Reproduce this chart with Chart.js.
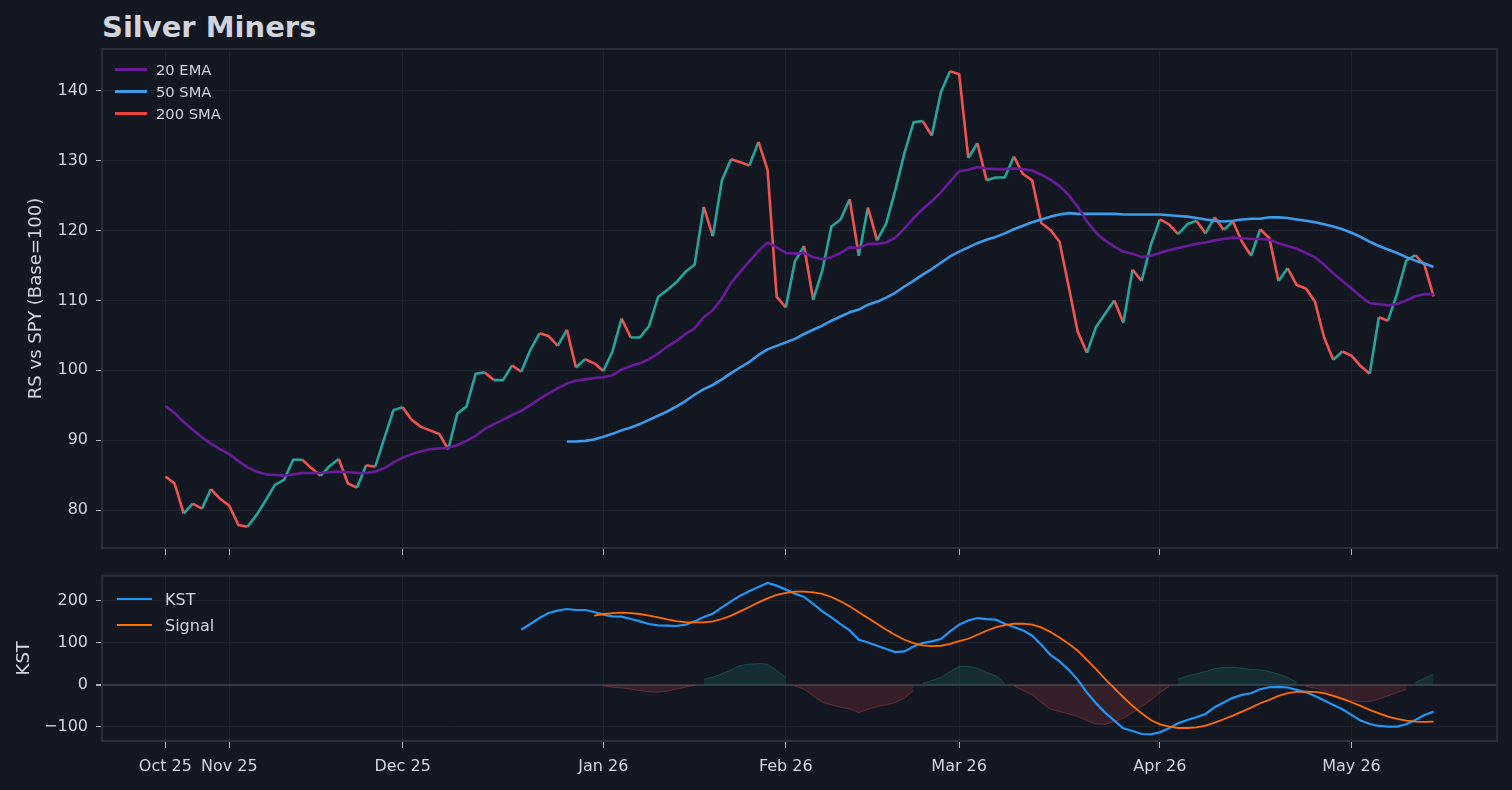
<!doctype html>
<html lang="en">
<head>
  <meta charset="utf-8">
  <title>Silver Miners</title>
  <style>
    body { margin: 0; background: #131722; width: 1512px; height: 790px; overflow: hidden; position: relative;
           font-family: 'DejaVu Sans', sans-serif; color: #d1d4dc; }
    #title { position: absolute; left: 102px; top: 13px; font-size: 29px; font-weight: bold; line-height: 29px; }
    canvas { position: absolute; left: 0; }
    #top { top: 0; }
    #bottom { top: 558px; }
    .legend { position: absolute; }
    .legend div { display: flex; align-items: center; white-space: nowrap; }
    .legend .sw { display: inline-block; }
    #legTop { left: 115px; top: 58px; font-size: 14.7px; }
    #legTop div { height: 22px; }
    #legTop .sw { width: 32px; height: 3px; margin-right: 9px; }
    #legBot { left: 117px; top: 586px; font-size: 16px; }
    #legBot div { height: 26px; }
    #legBot .sw { width: 35px; height: 2.5px; margin-right: 13px; }
  </style>
</head>

<body>
  <div id="title">Silver Miners</div>
  <canvas id="top" width="1512" height="567"></canvas>
  <canvas id="bottom" width="1512" height="232"></canvas>
  <div class="legend" id="legTop">
    <div><span class="sw" style="background:#6a1b9a"></span>20 EMA</div>
    <div><span class="sw" style="background:#3d9be9"></span>50 SMA</div>
    <div><span class="sw" style="background:#e8453c"></span>200 SMA</div>
  </div>
  <div class="legend" id="legBot">
    <div><span class="sw" style="background:#2196f3"></span>KST</div>
    <div><span class="sw" style="background:#ff6d00"></span>Signal</div>
  </div>

  <script src="https://cdn.jsdelivr.net/npm/chart.js@4.4.1/dist/chart.umd.min.js"></script>
  <script>
  // x axis is the trading-day index, month labels sit on the first session of each month
  const tickIdx = [0, 7, 26, 48, 68, 87, 109, 130];
  const tickLabels = ['Oct 25', 'Nov 25', 'Dec 25', 'Jan 26', 'Feb 26', 'Mar 26', 'Apr 26', 'May 26'];

  // relative strength vs SPY, one value per session
  const rs = [
    84.8, 83.8, 79.5, 80.9, 80.2, 83.0, 81.6, 80.6, 77.85, 77.6,
    79.3, 81.4, 83.6, 84.3, 87.2, 87.2, 86.0, 84.9, 86.3, 87.3,
    83.8, 83.2, 86.4, 86.2, 90.3, 94.3, 94.7, 92.9, 91.9, 91.4,
    90.9, 88.7, 93.8, 94.8, 99.5, 99.7, 98.6, 98.6, 100.7, 99.8,
    102.9, 105.3, 104.9, 103.5, 105.8, 100.4, 101.6, 101.0, 99.9, 102.7,
    107.4, 104.7, 104.7, 106.3, 110.5, 111.5, 112.6, 114.1, 115.1, 123.4,
    119.2, 127.2, 130.2, 129.8, 129.3, 132.7, 128.7, 110.5, 109.0, 115.6,
    117.8, 110.1, 114.3, 120.6, 121.6, 124.5, 116.4, 123.3, 118.6, 121.0,
    125.8, 131.1, 135.5, 135.7, 133.6, 139.8, 142.8, 142.4, 130.4, 132.5,
    127.2, 127.6, 127.6, 130.6, 128.1, 127.2, 121.1, 120.1, 118.4, 112.0,
    105.5, 102.5, 106.2, 108.1, 110.0, 106.8, 114.4, 112.8, 117.9, 121.6,
    120.9, 119.5, 120.9, 121.4, 119.6, 121.9, 120.1, 121.3, 118.4, 116.4,
    120.2, 118.9, 112.8, 114.6, 112.2, 111.7, 109.8, 104.7, 101.5, 102.7,
    102.1, 100.6, 99.5, 107.6, 107.1, 111.0, 115.7, 116.5, 115.1, 110.6
  ];

  const ema20 = [
    94.9, 93.9, 92.6, 91.5, 90.4, 89.5, 88.7, 88.0, 87.0, 86.1,
    85.5, 85.1, 85.0, 84.9, 85.1, 85.3, 85.3, 85.3, 85.4, 85.5,
    85.4, 85.3, 85.3, 85.5, 86.0, 86.8, 87.5, 88.0, 88.4, 88.7,
    88.8, 88.9, 89.3, 89.9, 90.6, 91.6, 92.3, 92.9, 93.6, 94.2,
    95.0, 95.9, 96.7, 97.4, 98.1, 98.5, 98.7, 98.9, 99.0, 99.3,
    100.1, 100.6, 101.0, 101.6, 102.4, 103.4, 104.2, 105.2, 106.0, 107.6,
    108.6, 110.3, 112.5, 114.1, 115.6, 117.1, 118.3, 117.6, 116.8, 116.7,
    116.8, 116.2, 115.9, 116.2, 116.8, 117.6, 117.5, 118.1, 118.1, 118.3,
    119.0, 120.3, 121.8, 123.1, 124.2, 125.5, 127.0, 128.5, 128.7, 129.1,
    128.9, 128.8, 128.8, 128.9, 128.8, 128.6, 128.0, 127.3, 126.4, 125.1,
    123.4, 121.3, 119.7, 118.6, 117.7, 117.0, 116.7, 116.2, 116.4, 116.8,
    117.2, 117.5, 117.8, 118.1, 118.3, 118.6, 118.8, 119.0, 118.9, 118.8,
    118.8, 118.7, 118.2, 117.8, 117.4, 116.8, 116.2, 115.1, 113.9, 112.8,
    111.7, 110.6, 109.6, 109.5, 109.3, 109.5, 110.0, 110.6, 110.9, 110.9
  ];

  // 50 SMA only exists from session 44 onwards
  const sma50Start = 44;
  const sma50 = [
    89.8, 89.8, 89.9, 90.1, 90.5, 90.9, 91.4, 91.8, 92.3, 92.9,
    93.5, 94.1, 94.8, 95.6, 96.5, 97.3, 97.9, 98.7, 99.6, 100.4,
    101.2, 102.2, 103.0, 103.5, 104.0, 104.5, 105.2, 105.8, 106.4, 107.1,
    107.7, 108.3, 108.7, 109.4, 109.8, 110.4, 111.1, 112.0, 112.8, 113.7,
    114.5, 115.4, 116.3, 117.0, 117.6, 118.2, 118.7, 119.1, 119.6, 120.2,
    120.7, 121.2, 121.6, 122.0, 122.3, 122.5, 122.4, 122.4, 122.4, 122.4,
    122.4, 122.3, 122.3, 122.3, 122.3, 122.3, 122.2, 122.1, 122.0, 121.8,
    121.6, 121.4, 121.3, 121.4, 121.6, 121.7, 121.7, 121.9, 121.9, 121.8,
    121.6, 121.4, 121.2, 120.9, 120.6, 120.2, 119.7, 119.1, 118.4, 117.8,
    117.3, 116.8, 116.2, 115.7, 115.3, 114.8
  ];

  const kstStart = 39;
  const kst = [
    131, 144.5, 158.8, 170.6, 176.2, 180.2, 177.8, 177.8, 173.0, 166.7,
    162.7, 161.9, 156.4, 150.8, 144.5, 141.3, 140.5, 139.8, 142.9, 150.8,
    161.1, 169.0, 184.1, 198.4, 211.9, 222.2, 232.6, 242.1, 235.7, 226.2,
    216.7, 208.7, 192.1, 174.6, 160.3, 144.5, 129.4, 107.1, 100.8, 92.9,
    85.0, 77.8, 79.4, 91.3, 99.3, 103.2, 108.8, 126.9, 142.9, 153.0,
    158.7, 156.3, 154.8, 145.2, 137.3, 129.4, 116.7, 95.2, 71.4, 55.6,
    35.7, 11.9, -18.3, -43.7, -65.9, -84.9, -103.2, -109.5, -116.7, -117.5,
    -112.7, -103.2, -91.3, -83.3, -77.0, -69.0, -53.2, -42.0, -30.9, -23.8,
    -19.8, -10.3, -5.6, -4.8, -6.3, -11.9, -17.5, -26.2, -37.3, -47.6,
    -57.9, -71.4, -84.9, -92.9, -97.6, -99.2, -99.2, -93.7, -83.3, -71.4,
    -63.5
  ];

  const signalStart = 47;
  const signal = [
    164.3, 168.3, 170.6, 171.4, 170.6, 168.3, 164.3, 160.3, 155.6, 151.6,
    149.2, 148.4, 148.4, 150.8, 156.4, 164.3, 174.6, 185.0, 196.0, 205.5,
    213.5, 218.3, 221.4, 221.4, 219.8, 215.9, 208.7, 198.4, 186.5, 172.2,
    158.8, 145.2, 131.0, 118.3, 107.1, 99.3, 93.6, 92.1, 92.9, 97.6,
    104.0, 109.5, 119.0, 128.6, 136.5, 142.1, 145.2, 145.2, 142.9, 136.5,
    125.4, 112.7, 97.6, 81.0, 59.5, 37.3, 13.5, -7.9, -29.4, -50.0,
    -67.5, -83.3, -93.7, -99.2, -102.4, -102.4, -100.8, -96.8, -89.7, -81.7,
    -73.0, -63.5, -54.0, -43.7, -35.7, -26.2, -19.8, -16.7, -15.9, -16.7,
    -19.8, -26.2, -33.3, -41.3, -50.0, -59.5, -67.5, -75.4, -81.0, -84.9,
    -87.3, -88.1, -87.3
  ];

  // KST minus signal, shaded round the zero line
  const histStart = 47;
  const hist = [
    9.5, -2.4, -5.6, -7.0, -10.0, -13.5, -16.7, -17.5, -15.0, -10.0,
    -5.6, -0.8, 13.5, 18.3, 26.2, 35.7, 46.0, 49.2, 50.8, 49.2,
    34.1, 18.3, -2.4, -10.3, -26.2, -41.3, -47.6, -53.2, -57.1, -65.9,
    -57.9, -51.6, -47.6, -42.0, -31.7, -13.5, 4.0, 10.3, 17.5, 31.7,
    43.7, 43.7, 39.7, 29.4, 21.4, 4.0, -2.4, -13.5, -23.8, -42.0,
    -57.9, -63.5, -69.0, -75.4, -84.9, -92.9, -93.7, -87.3, -79.4, -65.9,
    -51.6, -35.7, -18.3, -4.0, 13.5, 21.4, 26.2, 31.7, 38.9, 41.3,
    42.0, 39.7, 36.5, 35.7, 31.7, 25.4, 18.3, 5.6, -4.0, -7.9,
    -13.5, -23.8, -31.7, -37.3, -39.7, -39.7, -34.1, -26.2, -18.3, -10.3,
    5.6, 15.9, 25.4
  ];

  const upColor = '#26a69a';
  const downColor = '#ef5350';
  const textColor = '#d1d4dc';
  const gridColor = '#1e222d';
  const frameColor = '#2a2e39';
  const tickMark = '#b2b5be';

  Chart.defaults.font.family = "'DejaVu Sans', sans-serif";
  Chart.defaults.color = textColor;
  Chart.defaults.animation = false;

  function pts(arr, start) {
    return arr.map((v, i) => ({x: start + i, y: v}));
  }

  const framePlugin = {
    id: 'frame',
    afterDraw(chart) {
      const a = chart.chartArea, ctx = chart.ctx;
      ctx.save();
      ctx.strokeStyle = frameColor;
      ctx.lineWidth = 2;
      ctx.strokeRect(a.left, a.top, a.right - a.left, a.bottom - a.top);
      ctx.restore();
    }
  };

  function xScale(showLabels, height) {
    return {
      type: 'linear',
      min: -6.95,
      max: 145.95,
      afterBuildTicks: s => { s.ticks = tickIdx.map(v => ({value: v})); },
      afterFit: s => { s.height = height; },
      ticks: {
        display: showLabels,
        autoSkip: false,
        maxRotation: 0,
        padding: 9,
        color: textColor,
        font: {size: 16},
        callback: v => tickLabels[tickIdx.indexOf(v)]
      },
      grid: {color: gridColor, tickColor: tickMark, tickLength: 7},
      border: {display: false}
    };
  }

  function yScale(min, max, ticks, title, titlePad, gridFn) {
    return {
      min: min,
      max: max,
      afterBuildTicks: s => { s.ticks = ticks.map(v => ({value: v})); },
      afterFit: s => { s.width = 102; },
      ticks: {
        padding: 8,
        color: textColor,
        font: {size: 16},
        callback: v => String(v).replace('-', '\u2212')
      },
      grid: gridFn || {color: gridColor, tickColor: tickMark, tickLength: 6},
      border: {display: false},
      title: {display: true, text: title, color: textColor, font: {size: 18}, padding: {top: titlePad, bottom: 0}}
    };
  }

  new Chart(document.getElementById('top'), {
    type: 'line',
    data: {
      datasets: [
        {
          label: 'RS',
          data: pts(rs, 0),
          borderColor: upColor,
          borderWidth: 2.6,
          segment: {
            borderColor: c => c.p1.parsed.y >= c.p0.parsed.y ? upColor : downColor
          },
          order: 3
        },
        {label: '50 SMA', data: pts(sma50, sma50Start), borderColor: '#3d9be9', borderWidth: 2.6, order: 2},
        {label: '20 EMA', data: pts(ema20, 0), borderColor: '#6a1b9a', borderWidth: 2.6, order: 1}
      ]
    },
    options: {
      responsive: false,
      layout: {padding: {top: 49, right: 15, left: 0, bottom: 0}},
      elements: {point: {radius: 0}, line: {tension: 0, borderJoinStyle: 'round'}},
      plugins: {legend: {display: false}, tooltip: {enabled: false}},
      scales: {
        x: xScale(false, 19),
        y: yScale(74.56, 146.0, [80, 90, 100, 110, 120, 130, 140], 'RS vs SPY (Base=100)', 26)
      }
    },
    plugins: [framePlugin]
  });

  const histUp = hist.map(v => v > 0 ? v : null);
  const histDown = hist.map(v => v < 0 ? v : null);

  new Chart(document.getElementById('bottom'), {
    type: 'line',
    data: {
      datasets: [
        {label: 'Signal', data: pts(signal, signalStart), borderColor: '#ff6d00', borderWidth: 1.8, order: 1},
        {label: 'KST', data: pts(kst, kstStart), borderColor: '#2196f3', borderWidth: 2.2, order: 2},
        {
          label: 'up', data: pts(histUp, histStart), order: 3, spanGaps: false,
          borderColor: 'rgba(38,166,154,0.3)', borderWidth: 1,
          backgroundColor: 'rgba(38,166,154,0.15)', fill: 'origin'
        },
        {
          label: 'down', data: pts(histDown, histStart), order: 4, spanGaps: false,
          borderColor: 'rgba(239,83,80,0.3)', borderWidth: 1,
          backgroundColor: 'rgba(239,83,80,0.15)', fill: 'origin'
        }
      ]
    },
    options: {
      responsive: false,
      layout: {padding: {top: 16, right: 15, left: 0, bottom: 0}},
      elements: {point: {radius: 0}, line: {tension: 0}},
      plugins: {legend: {display: false}, tooltip: {enabled: false}},
      scales: {
        x: xScale(true, 49),
        y: yScale(-133.3, 259.5, [-100, 0, 100, 200], 'KST', 14, {
          color: c => c.tick && c.tick.value === 0 ? '#363a45' : gridColor,
          lineWidth: c => c.tick && c.tick.value === 0 ? 2 : 1,
          tickColor: tickMark,
          tickLength: 6
        })
      }
    },
    plugins: [framePlugin]
  });
  </script>
</body>
</html>
